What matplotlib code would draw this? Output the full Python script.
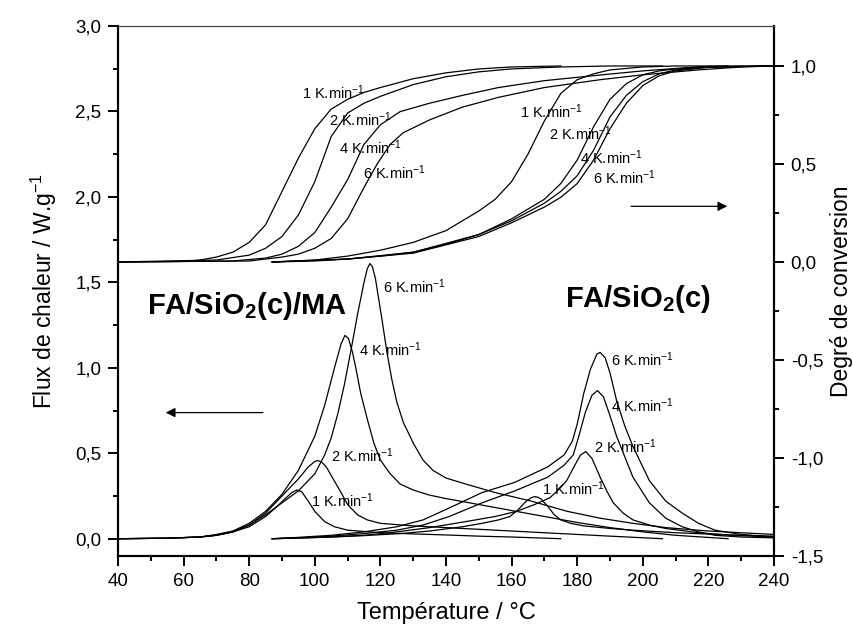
import matplotlib
matplotlib.use('Agg')
import matplotlib.pyplot as plt
from matplotlib.ticker import MultipleLocator, FuncFormatter

plt.rcParams['font.family'] = ['Liberation Sans', 'DejaVu Sans']
plt.rcParams['mathtext.fontset'] = 'custom'
plt.rcParams['mathtext.rm'] = 'Liberation Sans'
plt.rcParams['mathtext.it'] = 'Liberation Sans:italic'
plt.rcParams['mathtext.bf'] = 'Liberation Sans:bold'
plt.rcParams['axes.unicode_minus'] = False

# ---------------- Heat flow (left axis), FA/SiO2(c)/MA ----------------
ma1_T = [40, 55, 65, 70, 75, 80, 85, 88, 91, 93, 94.5, 96, 98, 100, 103, 106, 110, 120, 130, 140, 150, 160, 175]
ma1_q = [0, 0.003, 0.01, 0.02, 0.04, 0.07, 0.13, 0.18, 0.235, 0.27, 0.285, 0.275, 0.22, 0.16, 0.10, 0.07, 0.05, 0.035, 0.028, 0.022, 0.015, 0.01, 0.0]

ma2_T = [40, 55, 65, 70, 75, 80, 85, 90, 95, 98, 100, 100.8, 102, 103.5, 105, 108, 110, 113, 116, 120, 130, 140, 150, 160, 170, 180, 190, 206]
ma2_q = [0, 0.003, 0.01, 0.02, 0.04, 0.08, 0.15, 0.25, 0.35, 0.42, 0.452, 0.457, 0.45, 0.42, 0.37, 0.27, 0.2, 0.14, 0.11, 0.09, 0.075, 0.065, 0.055, 0.045, 0.035, 0.025, 0.015, 0.0]

ma4_T = [40, 55, 65, 70, 75, 80, 85, 90, 95, 100, 103, 106, 108, 109.2, 110.3, 111.5, 112.6, 114, 116, 118, 120, 123, 126, 130, 135, 140, 150, 160, 170, 180, 190, 200, 210, 226]
ma4_q = [0, 0.003, 0.01, 0.025, 0.045, 0.09, 0.16, 0.26, 0.40, 0.60, 0.78, 1.0, 1.14, 1.19, 1.17, 1.09, 0.99, 0.85, 0.70, 0.56, 0.46, 0.38, 0.32, 0.285, 0.255, 0.235, 0.2, 0.165, 0.13, 0.095, 0.065, 0.04, 0.02, 0.0]

ma6_T = [40, 55, 65, 70, 75, 80, 85, 90, 95, 100, 103, 105, 107, 109, 111, 113, 115, 116, 116.8, 117.6, 118.5, 119.5, 120.5, 122, 123.5, 125, 127, 130, 133, 136, 140, 146, 155, 166, 177, 187, 197, 207, 220, 230, 240]
ma6_q = [0, 0.003, 0.01, 0.02, 0.04, 0.08, 0.14, 0.21, 0.28, 0.38, 0.49, 0.59, 0.73, 0.90, 1.10, 1.31, 1.50, 1.58, 1.61, 1.59, 1.52, 1.40, 1.28, 1.09, 0.93, 0.80, 0.68, 0.56, 0.46, 0.40, 0.355, 0.32, 0.27, 0.22, 0.16, 0.12, 0.09, 0.065, 0.045, 0.035, 0.025]

# ---------------- Heat flow (left axis), FA/SiO2(c) ----------------
fa1_T = [87, 95, 105, 115, 126, 135, 145, 151, 156, 159.5, 162, 164.5, 166, 167, 168, 169, 171, 173, 175, 178, 182, 190, 197, 210, 227, 240]
fa1_q = [0, 0.004, 0.01, 0.018, 0.03, 0.045, 0.07, 0.09, 0.11, 0.13, 0.17, 0.22, 0.24, 0.246, 0.243, 0.232, 0.19, 0.14, 0.11, 0.09, 0.075, 0.06, 0.05, 0.035, 0.022, 0.015]

fa2_T = [87, 95, 105, 115, 125, 135, 146, 155, 161.5, 167, 171.7, 174.5, 176.8, 179, 181, 182.6, 184.5, 187, 189, 191, 194, 197, 202, 207, 217, 227, 240]
fa2_q = [0, 0.004, 0.01, 0.02, 0.04, 0.065, 0.1, 0.13, 0.16, 0.2, 0.24, 0.29, 0.34, 0.42, 0.49, 0.51, 0.47, 0.36, 0.28, 0.21, 0.15, 0.11, 0.08, 0.06, 0.035, 0.02, 0.01]

fa4_T = [87, 95, 105, 115, 125, 133, 141, 151, 161, 171, 176, 178.8, 180.5, 182.5, 184.5, 186.2, 188, 190, 192, 194.5, 197, 202, 207, 212, 217, 222, 230, 240]
fa4_q = [0, 0.005, 0.015, 0.03, 0.05, 0.08, 0.13, 0.21, 0.28, 0.36, 0.43, 0.49, 0.60, 0.74, 0.84, 0.867, 0.83, 0.72, 0.60, 0.48, 0.36, 0.21, 0.12, 0.07, 0.04, 0.02, 0.01, 0.005]

fa6_T = [87, 95, 105, 115, 125, 133, 141, 151, 161, 171, 176, 178.5, 180, 182, 184, 186, 187, 188.5, 190, 192, 194.5, 197, 202, 207, 212, 217, 222, 230, 240]
fa6_q = [0, 0.008, 0.02, 0.04, 0.07, 0.11, 0.18, 0.27, 0.33, 0.42, 0.49, 0.57, 0.67, 0.85, 0.99, 1.08, 1.09, 1.06, 0.97, 0.81, 0.66, 0.54, 0.34, 0.22, 0.15, 0.09, 0.05, 0.025, 0.01]

# ---------------- Conversion (right axis), FA/SiO2(c)/MA ----------------
cma1_T = [40, 60, 65, 70, 75, 80, 85, 90, 95, 100, 105, 110, 115, 120, 130, 140, 150, 160, 175]
cma1_a = [0, 0.003, 0.01, 0.025, 0.05, 0.10, 0.19, 0.36, 0.53, 0.68, 0.78, 0.83, 0.865, 0.89, 0.935, 0.965, 0.985, 0.995, 1.0]

cma2_T = [40, 70, 80, 85, 90, 95, 100, 105, 110, 115, 120, 130, 140, 150, 160, 175, 190, 206]
cma2_a = [0, 0.01, 0.035, 0.07, 0.13, 0.24, 0.41, 0.64, 0.76, 0.81, 0.845, 0.905, 0.945, 0.97, 0.985, 0.995, 1.0, 1.0]

cma4_T = [40, 75, 85, 90, 95, 100, 105, 110, 115, 120, 126, 135, 145, 156, 170, 187, 200, 217, 226]
cma4_a = [0, 0.005, 0.02, 0.04, 0.08, 0.15, 0.28, 0.42, 0.60, 0.70, 0.767, 0.81, 0.85, 0.89, 0.925, 0.954, 0.975, 0.996, 1.0]

cma6_T = [40, 80, 90, 95, 100, 105, 110, 115, 119, 123, 127, 135, 145, 156, 170, 187, 200, 217, 230, 240]
cma6_a = [0, 0.005, 0.025, 0.04, 0.07, 0.12, 0.22, 0.38, 0.50, 0.60, 0.66, 0.725, 0.79, 0.84, 0.89, 0.93, 0.955, 0.98, 0.995, 1.0]

# ---------------- Conversion (right axis), FA/SiO2(c) ----------------
cfa1_T = [87, 100, 110, 120, 130, 140, 150, 155, 160, 165, 170, 175, 180, 185, 190, 200, 210, 240]
cfa1_a = [0, 0.01, 0.03, 0.06, 0.10, 0.16, 0.26, 0.32, 0.41, 0.55, 0.72, 0.86, 0.93, 0.96, 0.98, 0.995, 1.0, 1.0]

cfa2_T = [87, 100, 110, 120, 130, 140, 150, 160, 170, 175, 180, 185, 190, 195, 200, 205, 210, 220, 240]
cfa2_a = [0, 0.005, 0.015, 0.03, 0.05, 0.09, 0.14, 0.22, 0.32, 0.40, 0.52, 0.69, 0.83, 0.91, 0.955, 0.975, 0.985, 0.995, 1.0]

cfa4_T = [87, 110, 130, 150, 160, 170, 175, 180, 185, 190, 195, 200, 205, 210, 220, 240]
cfa4_a = [0, 0.015, 0.05, 0.14, 0.21, 0.30, 0.36, 0.44, 0.57, 0.74, 0.85, 0.92, 0.96, 0.98, 0.995, 1.0]

cfa6_T = [87, 110, 130, 150, 160, 170, 175, 180, 185, 190, 195, 200, 205, 210, 220, 240]
cfa6_a = [0, 0.015, 0.045, 0.13, 0.20, 0.28, 0.33, 0.40, 0.52, 0.68, 0.81, 0.90, 0.95, 0.975, 0.993, 1.0]

rate_labels = ['1 K.min$^{-1}$', '2 K.min$^{-1}$', '4 K.min$^{-1}$', '6 K.min$^{-1}$']
x_ticks = [40, 60, 80, 100, 120, 140, 160, 180, 200, 220, 240]

fig = plt.figure(figsize=(8.54, 6.31), dpi=100)
ax = fig.add_axes([0.1382, 0.1189, 0.9063 - 0.1382, 0.9588 - 0.1189])
ax2 = ax.twinx()

lw = 0.9
for T, q in [(ma1_T, ma1_q), (ma2_T, ma2_q), (ma4_T, ma4_q), (ma6_T, ma6_q),
             (fa1_T, fa1_q), (fa2_T, fa2_q), (fa4_T, fa4_q), (fa6_T, fa6_q)]:
    ax.plot(T, q, color='black', lw=lw)
for T, a in [(cma1_T, cma1_a), (cma2_T, cma2_a), (cma4_T, cma4_a), (cma6_T, cma6_a),
             (cfa1_T, cfa1_a), (cfa2_T, cfa2_a), (cfa4_T, cfa4_a), (cfa6_T, cfa6_a)]:
    ax2.plot(T, a, color='black', lw=lw)

ax.set_xlim(40, 240)
ax.set_ylim(-0.101, 3.0)
ax2.set_ylim(-1.5, 1.204)

def comma(v, pos):
    return ('%.1f' % v).replace('.', ',')

ax.set_xticks(x_ticks)
ax.xaxis.set_minor_locator(MultipleLocator(10))
ax.yaxis.set_major_locator(MultipleLocator(0.5))
ax.yaxis.set_minor_locator(MultipleLocator(0.25))
ax.yaxis.set_major_formatter(FuncFormatter(comma))
ax2.yaxis.set_major_locator(MultipleLocator(0.5))
ax2.yaxis.set_minor_locator(MultipleLocator(0.25))
ax2.yaxis.set_major_formatter(FuncFormatter(comma))

for a in (ax, ax2):
    a.tick_params(which='major', direction='out', length=7, width=1.4, labelsize=13.5, pad=5)
    a.tick_params(which='minor', direction='out', length=3.8, width=1.4)
    for name, s in a.spines.items():
        s.set_linewidth(1.5)
    a.spines['top'].set_linewidth(0.8)
    a.spines['top'].set_color('#444444')

ax.set_xlabel('Température / °C', fontsize=17, labelpad=9)
ax.set_ylabel('Flux de chaleur / W.g$^{-1}$', fontsize=16.5, labelpad=12)
ax2.set_ylabel('Degré de conversion', fontsize=16.5, labelpad=5)

fs = 10.5
# upper labels (conversion, FA/SiO2(c)/MA)
for (T, v), lab in zip([(96.0, 2.61), (104.3, 2.45), (107.3, 2.29), (114.7, 2.14)], rate_labels):
    ax.text(T, v, lab, fontsize=fs, ha='left', va='center')
# upper labels (conversion, FA/SiO2(c))
for (T, v), lab in zip([(162.5, 2.50), (171.5, 2.37), (180.8, 2.23), (184.7, 2.11)], rate_labels):
    ax.text(T, v, lab, fontsize=fs, ha='left', va='center')
# lower labels MA
for (T, v), lab in zip([(98.7, 0.223), (104.9, 0.485), (113.5, 1.105), (120.7, 1.476)], rate_labels):
    ax.text(T, v, lab, fontsize=fs, ha='left', va='center')
# lower labels FA
for (T, v), lab in zip([(169.4, 0.29), (185.1, 0.54), (190.2, 0.777), (190.3, 1.05)], rate_labels):
    ax.text(T, v, lab, fontsize=fs, ha='left', va='center')

ax.text(48.7, 1.36, 'FA/SiO$_\\mathbf{2}$(c)/MA', fontsize=21, fontweight='bold', ha='left', va='center')
ax.text(176.3, 1.40, 'FA/SiO$_\\mathbf{2}$(c)', fontsize=21, fontweight='bold', ha='left', va='center')

ax.annotate('', xy=(53.7, 0.738), xytext=(85.0, 0.738),
            arrowprops=dict(arrowstyle='-|>', color='black', lw=0.9, mutation_scale=14))
ax.annotate('', xy=(226.6, 1.945), xytext=(195.6, 1.945),
            arrowprops=dict(arrowstyle='-|>', color='black', lw=0.9, mutation_scale=14))

fig.savefig('out.png', dpi=100)
